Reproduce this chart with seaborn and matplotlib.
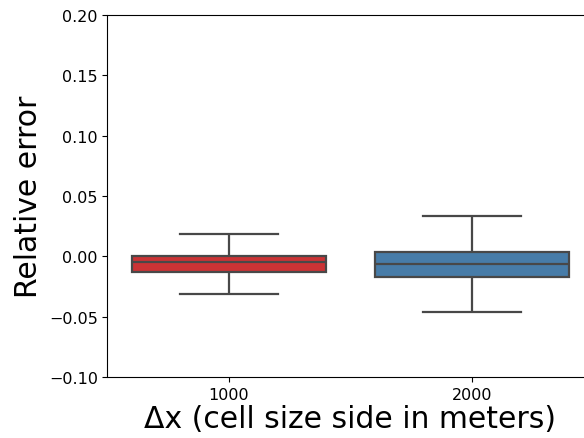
import numpy as np
import pandas as pd
import matplotlib
matplotlib.use("Agg")
import matplotlib.pyplot as plt
import seaborn as sns

# data (five-number style samples)
cell_sizes = ["1000", "2000"]
err_1000 = [-0.0315, -0.0128, -0.0050, 0.0000, 0.0185]
err_2000 = [-0.0459, -0.0172, -0.0061, 0.0033, 0.0337]

df = pd.DataFrame({
    "dx": [cell_sizes[0]] * len(err_1000) + [cell_sizes[1]] * len(err_2000),
    "err": err_1000 + err_2000,
})

fig = plt.figure(figsize=(5.84, 4.39), dpi=100)
ax = fig.add_axes([107.5 / 584, 61 / 439, 486 / 584, 362 / 439])
sns.boxplot(data=df, x="dx", y="err", hue="dx", palette="Set1", order=cell_sizes,
            legend=False, whis=(0, 100), linewidth=1.6, ax=ax)
ax.set_ylim(-0.10, 0.20)
ax.set_yticks(np.arange(-0.10, 0.2001, 0.05))
ax.set_yticklabels([f"{v:.2f}".replace("-", "\u2212") for v in np.arange(-0.10, 0.2001, 0.05)])
ax.tick_params(labelsize=11.5)
ax.set_ylabel("Relative error", fontsize=21.5)
ax.set_xlabel("\u0394x (cell size side in meters)", fontsize=21.5, labelpad=2)
fig.savefig("out.png", dpi=100)
